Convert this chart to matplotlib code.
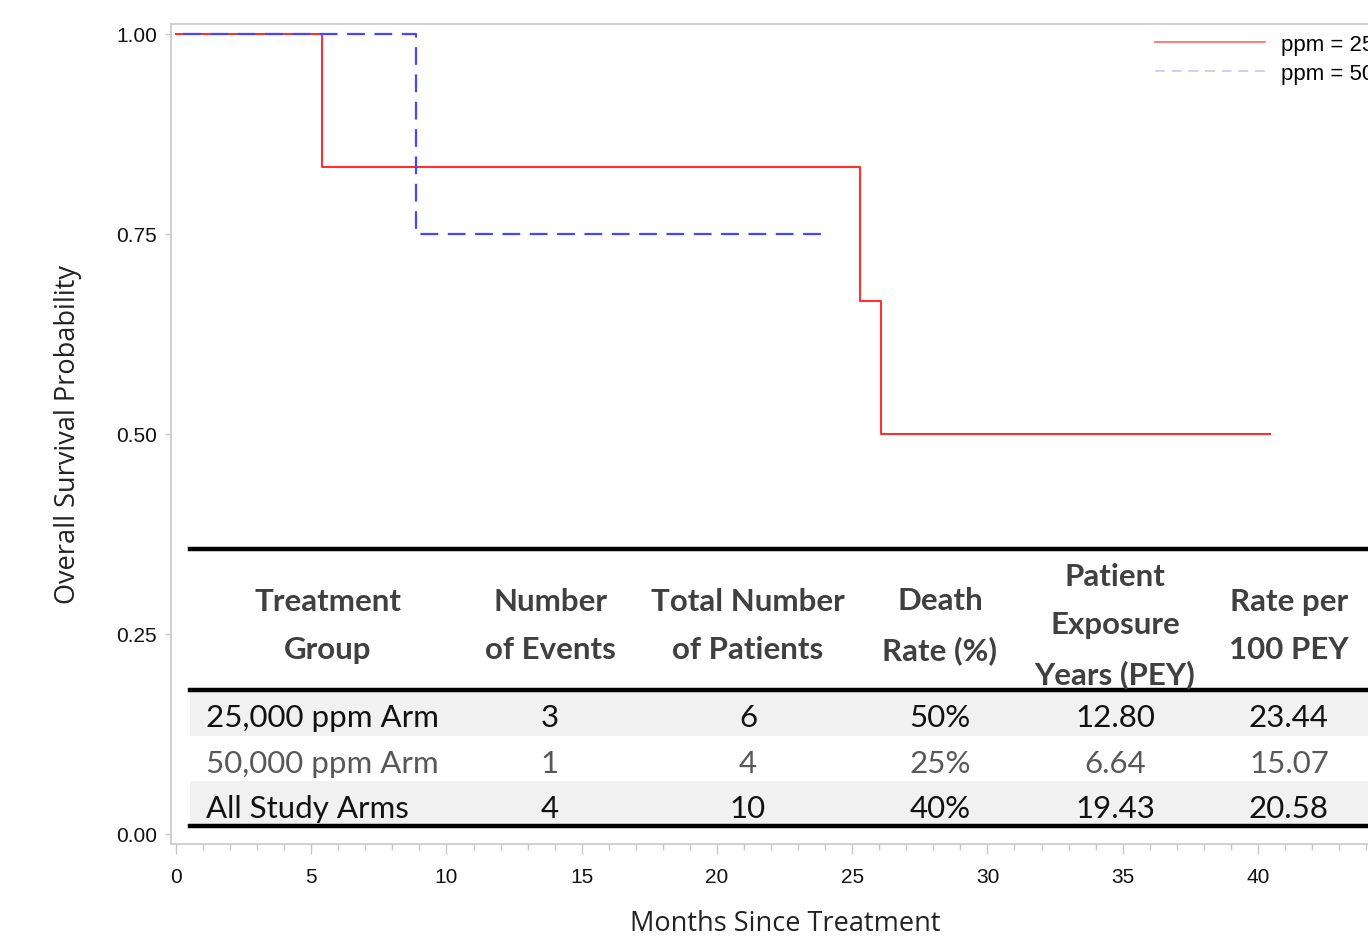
import matplotlib
matplotlib.use("Agg")
import matplotlib.pyplot as plt
from matplotlib.lines import Line2D
from matplotlib.patches import Rectangle

# ---- data ----
t_25 = [0.0, 5.4, 25.3, 26.05, 40.45]
s_25 = [1.0, 0.8333, 0.6667, 0.5, 0.5]
t_50 = [0.0, 8.87, 23.9]
s_50 = [1.0, 0.75, 0.75]
legend_labels = ["ppm = 25000", "ppm = 50000"]

x_ticks = [0, 5, 10, 15, 20, 25, 30, 35, 40]
y_ticks = [0.0, 0.25, 0.5, 0.75, 1.0]
y_ticklabels = ["0.00", "0.25", "0.50", "0.75", "1.00"]

tbl_header = ["Treatment\nGroup", "Number\nof Events", "Total Number\nof Patients",
              "Death\nRate (%)", "Patient\nExposure\nYears (PEY)", "Rate per\n100 PEY"]
tbl_groups = ["25,000 ppm Arm", "50,000 ppm Arm", "All Study Arms"]
tbl_events = ["3", "1", "4"]
tbl_patients = ["6", "4", "10"]
tbl_death = ["50%", "25%", "40%"]
tbl_pey = ["12.80", "6.64", "19.43"]
tbl_rate = ["23.44", "15.07", "20.58"]

W, H = 1368, 945
fig = plt.figure(figsize=(W / 100, H / 100), dpi=100)

def fx(x):
    return x / W

def fy(y):
    return 1 - y / H

ax = fig.add_axes([fx(171), fy(845), 1 - fx(171), fy(25) - fy(845)])
ax.set_xlim(-0.185, 44.07)
ax.set_ylim(-0.0125, 1.0125)

ax.step(t_25, s_25, where="post", color="#ff3030", lw=1.5, zorder=3)
ax.step(t_50, s_50, where="post", color="#4646ff", lw=1.6, ls=(9.1, (8, 4.3)), zorder=4)

ax.spines["right"].set_visible(False)
for sp in ["left", "top", "bottom"]:
    ax.spines[sp].set_color("#c8c8c8")
    ax.spines[sp].set_linewidth(1.2)

ax.set_xticks(x_ticks)
ax.set_xticks(range(0, 45), minor=True)
ax.set_yticks(y_ticks)
ax.set_yticklabels(y_ticklabels)
ax.tick_params(axis="x", which="major", direction="out", color="#c8c8c8",
               length=7.5, width=1, labelsize=15, pad=9)
ax.tick_params(axis="y", which="major", direction="out", color="#c8c8c8",
               length=4.5, width=1, labelsize=15, pad=5.5)
ax.tick_params(axis="x", which="minor", direction="out", color="#c8c8c8", length=4.5, width=1)
for lab in ax.get_xticklabels() + ax.get_yticklabels():
    lab.set_family("Liberation Sans")
    lab.set_color("#111111")

fig.text(fx(68), fy(435), "Overall Survival Probability", rotation=90, ha="center",
         va="center", fontsize=19.5, family="Open Sans", color="#222222")
fig.text(fx(785), fy(924), "Months Since Treatment", ha="center", va="center",
         fontsize=19.5, family="Open Sans", color="#222222")

handles = [Line2D([], [], color="#ff3030", lw=1.2, alpha=0.75),
           Line2D([], [], color="#4646ff", lw=1.2, alpha=0.3, ls=(0, (6, 4)))]
leg = ax.legend(handles, legend_labels, loc="upper left", bbox_to_anchor=(fx(1155), fy(35)),
                bbox_transform=fig.transFigure, frameon=False, handlelength=4.95,
                handletextpad=0.72, labelspacing=0.36, borderpad=0, borderaxespad=0,
                prop={"family": "Liberation Sans", "size": 16})

# ---- table overlay ----
x0, x1 = 190, 1368
bands = [(692, 737, "#f1f1f1"), (737, 782, "#ffffff"), (782, 826, "#f1f1f1")]
fig.patches.append(Rectangle((fx(x0), fy(827)), fx(x1) - fx(x0), fy(550) - fy(827),
                             transform=fig.transFigure, facecolor="white",
                             edgecolor="none", zorder=5))
for top, bot, c in bands:
    fig.patches.append(Rectangle((fx(x0), fy(bot)), fx(x1) - fx(x0), fy(top) - fy(bot),
                                 transform=fig.transFigure, facecolor=c,
                                 edgecolor="none", zorder=6))
for yl in [550, 691, 827]:
    fig.add_artist(Line2D([fx(x0), fx(x1)], [fy(yl), fy(yl)], transform=fig.transFigure,
                          color="black", lw=3.2, zorder=7))

col_x = [328, 550, 748, 940, 1115, 1289]
tfont = "Lato"
fs = 22.5
for cx, h in zip(col_x, tbl_header):
    fig.text(fx(cx), fy(626), h, ha="center", va="center", fontsize=fs, family=tfont,
             fontweight="bold", color="#404040", linespacing=1.88, zorder=8)

row_y = [718, 764, 809]
row_colors = ["#111111", "#585858", "#111111"]
for i in range(3):
    fig.text(fx(206), fy(row_y[i]), tbl_groups[i], ha="left", va="center", fontsize=fs,
             family=tfont, color=row_colors[i], zorder=8)
    vals = [tbl_events[i], tbl_patients[i], tbl_death[i], tbl_pey[i], tbl_rate[i]]
    for cx, v in zip(col_x[1:], vals):
        fig.text(fx(cx), fy(row_y[i]), v, ha="center", va="center", fontsize=fs,
                 family=tfont, color=row_colors[i], zorder=8)

fig.savefig("out.png", dpi=100)
